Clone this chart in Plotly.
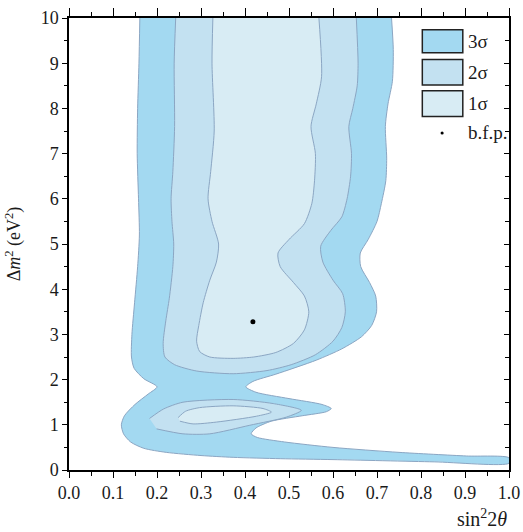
import plotly.graph_objects as go

# 3 sigma region (open at top, Delta m^2 = 10)
x3 = [0.161, 0.159, 0.156, 0.155, 0.158, 0.160, 0.156, 0.149, 0.143, 0.142, 0.148, 0.170, 0.200,
      0.180, 0.150, 0.126, 0.119, 0.124, 0.140, 0.170, 0.221, 0.300, 0.373, 0.480, 0.600, 0.830, 1.000,
      1.000, 0.903, 0.750, 0.600, 0.490, 0.428, 0.414, 0.425, 0.460, 0.530, 0.585, 0.596, 0.575, 0.500,
      0.425, 0.402, 0.418, 0.470, 0.562, 0.620, 0.665, 0.688, 0.699, 0.697, 0.683, 0.663,
      0.662, 0.680, 0.700, 0.710, 0.720, 0.722, 0.719, 0.725, 0.735, 0.737, 0.733]
y3 = [10.0, 9.0, 8.0, 7.0, 6.0, 5.2, 4.5, 3.7, 3.0, 2.5, 2.25, 2.02, 1.84,
      1.68, 1.45, 1.2, 1.0, 0.8, 0.62, 0.48, 0.39, 0.32, 0.28, 0.25, 0.23, 0.18, 0.15,
      0.27, 0.31, 0.39, 0.50, 0.62, 0.72, 0.80, 0.93, 1.08, 1.20, 1.29, 1.36, 1.45, 1.58,
      1.72, 1.84, 1.96, 2.12, 2.43, 2.68, 2.95, 3.2, 3.5, 3.85, 4.15, 4.5,
      4.8, 5.1, 5.5, 5.9, 6.4, 6.9, 7.6, 8.1, 8.6, 9.3, 10.0]

# 2 sigma regions
x2u = [0.2425, 0.239, 0.240, 0.236, 0.232, 0.234, 0.238, 0.236, 0.228, 0.220, 0.214, 0.218, 0.240, 0.290,
       0.373, 0.450, 0.505, 0.560, 0.600, 0.620, 0.628, 0.622, 0.600, 0.577, 0.572, 0.595, 0.620, 0.632,
       0.640, 0.642, 0.636, 0.645, 0.655, 0.657, 0.653]
y2u = [10.0, 9.0, 7.6, 6.6, 6.0, 5.5, 5.0, 4.5, 3.8, 3.3, 2.8, 2.5, 2.33, 2.19,
       2.13, 2.2, 2.33, 2.55, 2.85, 3.15, 3.5, 3.9, 4.2, 4.6, 4.95, 5.3, 5.6, 6.0,
       6.5, 7.0, 7.6, 8.0, 8.5, 9.0, 10.0]
x2l = [0.183, 0.215, 0.259, 0.373, 0.464, 0.528, 0.494, 0.411, 0.320, 0.259, 0.199]
y2l = [1.14, 1.35, 1.50, 1.56, 1.47, 1.32, 1.17, 0.99, 0.80, 0.80, 0.91]

# 1 sigma regions
x1u = [0.327, 0.325, 0.330, 0.322, 0.316, 0.325, 0.340, 0.335, 0.320, 0.305, 0.295, 0.290, 0.297, 0.320,
       0.373, 0.420, 0.470, 0.510, 0.535, 0.545, 0.535, 0.510, 0.480, 0.475, 0.500, 0.535, 0.552,
       0.558, 0.560, 0.550, 0.562, 0.574, 0.568]
y1u = [10.0, 9.0, 7.5, 6.6, 6.0, 5.5, 5.0, 4.6, 4.2, 3.7, 3.2, 2.85, 2.62, 2.5,
       2.47, 2.5, 2.6, 2.8, 3.1, 3.5, 3.85, 4.15, 4.5, 4.8, 5.1, 5.45, 5.9,
       6.4, 7.0, 7.6, 8.1, 8.7, 10.0]
x1l = [0.248, 0.265, 0.297, 0.373, 0.441, 0.460, 0.426, 0.335, 0.282, 0.252]
y1l = [1.16, 1.30, 1.38, 1.42, 1.36, 1.28, 1.19, 1.06, 1.02, 1.08]

# best fit point
bfp_x = [0.418]
bfp_y = [3.28]

legend_labels = ["3σ", "2σ", "1σ", "b.f.p."]
x_ticks = [0.0, 0.1, 0.2, 0.3, 0.4, 0.5, 0.6, 0.7, 0.8, 0.9, 1.0]
y_ticks = [0, 1, 2, 3, 4, 5, 6, 7, 8, 9, 10]

C3 = "#a3d9f1"
C2 = "#c3e1f1"
C1 = "#d8ecf4"
LINE = "#8ba6c3"
TXT = "#1a1a1a"
FONT = "Liberation Serif"

fig = go.Figure()


def add_region(xs, ys, color):
    fig.add_trace(go.Scatter(x=xs, y=ys, fill="toself", fillcolor=color, mode="lines",
                             line=dict(color=LINE, width=1, shape="spline", smoothing=0.7),
                             hoverinfo="skip", showlegend=False))


add_region(x3, y3, C3)
add_region(x2u, y2u, C2)
add_region(x2l, y2l, C2)
add_region(x1u, y1u, C1)
add_region(x1l, y1l, C1)

fig.add_trace(go.Scatter(x=bfp_x, y=bfp_y, mode="markers",
                         marker=dict(color="black", size=5), showlegend=False, hoverinfo="skip"))

# dummy trace for top/right mirror axes
fig.add_trace(go.Scatter(x=[0.5], y=[5], xaxis="x2", yaxis="y2", mode="markers",
                         marker=dict(opacity=0), showlegend=False, hoverinfo="skip"))

# manual legend
boxes = [(0.974, 0.923, C3), (0.908, 0.852, C2), (0.839, 0.782, C1)]
for (yt, yb, col), lab in zip(boxes, legend_labels[:3]):
    fig.add_shape(type="rect", xref="paper", yref="paper", x0=0.803, x1=0.895, y0=yb, y1=yt,
                  fillcolor=col, line=dict(color="#222222", width=1.5))
    fig.add_annotation(xref="paper", yref="paper", x=0.903, y=(yt + yb) / 2, text=lab,
                       showarrow=False, xanchor="left", yanchor="middle",
                       font=dict(family=FONT, size=19, color=TXT))
fig.add_shape(type="circle", xref="paper", yref="paper", x0=0.8445, x1=0.8515, y0=0.742, y1=0.749,
              fillcolor="black", line=dict(color="black", width=0))
fig.add_annotation(xref="paper", yref="paper", x=0.903, y=0.746, text=legend_labels[3],
                   showarrow=False, xanchor="left", yanchor="middle",
                   font=dict(family=FONT, size=19, color=TXT))

# x axis title
fig.add_annotation(xref="paper", yref="paper", x=1.0, y=-0.075, text="sin<sup>2</sup>2<i>θ</i>",
                   showarrow=False, xanchor="right", yanchor="top",
                   font=dict(family=FONT, size=20, color=TXT))

axis_common = dict(showgrid=False, zeroline=False, showline=True, linecolor="black", linewidth=1.5,
                   tickcolor="black", tickwidth=1.3, automargin=False)

fig.update_layout(
    width=523, height=532,
    margin=dict(l=69, r=14, t=18, b=62),
    plot_bgcolor="white", paper_bgcolor="white",
    font=dict(family=FONT, size=18, color=TXT),
    xaxis=dict(range=[0, 1], tickvals=x_ticks, ticktext=[f"{v:.1f}" for v in x_ticks],
               ticks="outside", ticklen=6,
               minor=dict(dtick=0.05, ticks="outside", ticklen=4, tickcolor="black", tickwidth=1.2),
               tickfont=dict(family=FONT, size=18, color=TXT), **axis_common),
    xaxis2=dict(range=[0, 1], overlaying="x", side="top", tickvals=x_ticks, ticks="outside", ticklen=8,
                showticklabels=False,
                minor=dict(dtick=0.05, ticks="outside", ticklen=4, tickcolor="black", tickwidth=1.2),
                **axis_common),
    yaxis=dict(range=[0, 10], tickvals=y_ticks, ticks="outside", ticklen=5,
               minor=dict(dtick=0.5, ticks="outside", ticklen=3, tickcolor="black", tickwidth=1.2),
               tickfont=dict(family=FONT, size=18, color=TXT),
               title=dict(text="Δ<i>m</i><sup>2</sup> (eV<sup>2</sup>)",
                          font=dict(family=FONT, size=18, color=TXT)),
               **axis_common),
    yaxis2=dict(range=[0, 10], overlaying="y", side="right", tickvals=y_ticks, ticks="inside", ticklen=5,
                showticklabels=False,
                minor=dict(dtick=0.5, ticks="inside", ticklen=4, tickcolor="black", tickwidth=1.2),
                **axis_common),
)

fig.write_html("out.html")
